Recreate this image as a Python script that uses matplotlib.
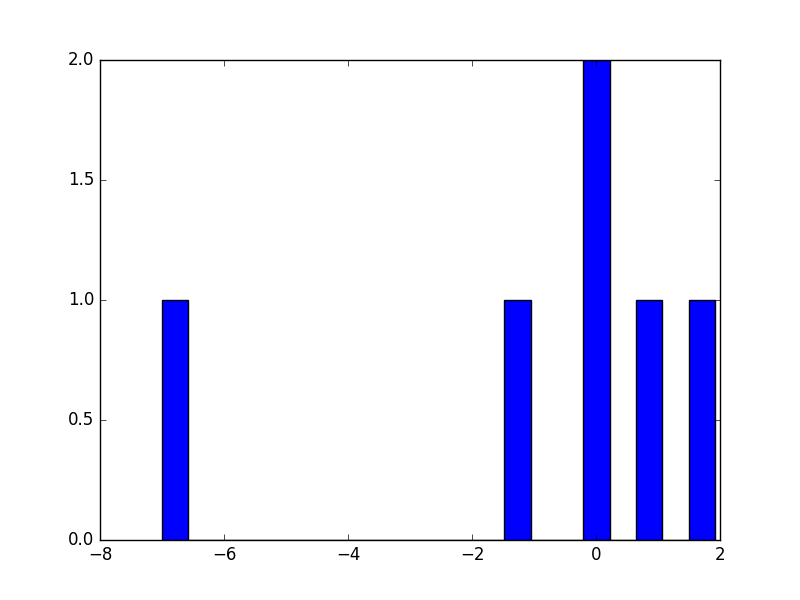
import matplotlib
matplotlib.use('Agg')
import matplotlib.pyplot as plt

# sample values (one per bar, two in the tall bar)
values = [-7.0, -1.3, -0.1, 0.1, 0.8, 1.92]
n_bins = 21

plt.style.use('classic')

fig, ax = plt.subplots(figsize=(8, 6), dpi=100)
ax.hist(values, bins=n_bins, color='b', edgecolor='k')
ax.set_xlim(-8, 2)
ax.set_ylim(0, 2)

fig.savefig('out.png', dpi=100)
